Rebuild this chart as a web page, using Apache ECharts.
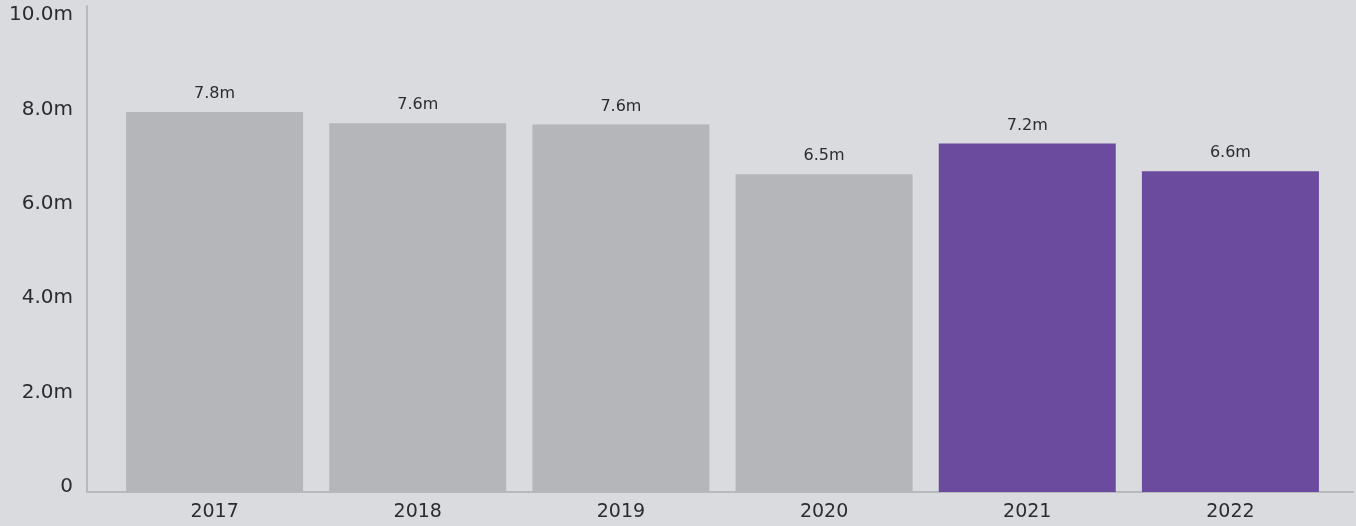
<!DOCTYPE html>
<html><head><meta charset="utf-8">
<script src="https://cdn.jsdelivr.net/npm/echarts@6/dist/echarts.min.js"></script>
<style>html,body{margin:0;padding:0;background:#dadbdf}#c{width:1356px;height:526px}</style>
</head><body><div id="c"></div>
<script>
const categories = ['2017','2018','2019','2020','2021','2022'];
const values = [7.82, 7.59, 7.56, 6.54, 7.17, 6.6];
const highlighted = [false, false, false, false, true, true];
const yTicks = {min: 0, max: 10, interval: 2};

const GRAY = '#b5b6ba', PURPLE = '#6b4b9d', TEXT = '#2c2c2e';
const FONT = 'DejaVu Sans';
const chart = echarts.init(document.getElementById('c'));
chart.setOption({
  backgroundColor: '#dadbdf',
  animation: false,
  grid: [
    {left: 87, right: 3, top: 6, bottom: 34},   // axis lines
    {left: 113, right: 24, top: 6, bottom: 34}, // bars
    {left: 87, right: 3, top: 15, bottom: 39}   // y tick labels
  ],
  xAxis: [
    {type: 'category', gridIndex: 0, data: categories,
     axisLine: {show: true, lineStyle: {color: '#b8b9bd', width: 2}},
     axisTick: {show: false}, axisLabel: {show: false}},
    {type: 'category', gridIndex: 1, data: categories,
     axisLine: {show: false}, axisTick: {show: false},
     axisLabel: {color: TEXT, fontSize: 19, fontFamily: FONT, margin: 11}},
    {type: 'category', gridIndex: 2, data: categories, show: false}
  ],
  yAxis: [
    {type: 'value', gridIndex: 0, min: yTicks.min, max: yTicks.max, interval: yTicks.interval,
     axisLine: {show: true, lineStyle: {color: '#b8b9bd', width: 2}},
     axisTick: {show: false}, splitLine: {show: false}, axisLabel: {show: false}},
    {type: 'value', gridIndex: 1, min: yTicks.min, max: yTicks.max, interval: yTicks.interval,
     show: false},
    {type: 'value', gridIndex: 2, min: yTicks.min, max: yTicks.max, interval: yTicks.interval,
     axisLine: {show: false}, axisTick: {show: false}, splitLine: {show: false},
     axisLabel: {color: TEXT, fontSize: 20, fontFamily: FONT, margin: 14,
       formatter: v => v === 0 ? '0' : v.toFixed(1) + 'm'}}
  ],
  series: [{
    type: 'bar', xAxisIndex: 1, yAxisIndex: 1,
    barWidth: 177,
    data: values.map((v, i) => ({value: v, itemStyle: {color: highlighted[i] ? PURPLE : GRAY}})),
    label: {show: true, position: 'top', distance: 10, color: TEXT, fontSize: 16, fontFamily: FONT,
      formatter: p => p.value.toFixed(1) + 'm'}
  }]
});
</script></body></html>
